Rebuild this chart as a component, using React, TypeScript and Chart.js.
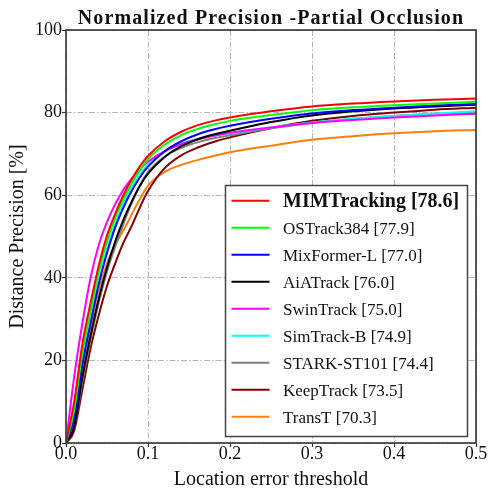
import React, { useEffect, useRef } from "react";
import { Chart, registerables } from "chart.js";
Chart.register(...registerables);

const chartTitle = "Normalized Precision -Partial Occlusion";
const xAxisTitle = "Location error threshold";
const yAxisTitle = "Distance Precision [%]";

const thresholds = [0, 0.01, 0.02, 0.03, 0.04, 0.05, 0.06, 0.07, 0.08, 0.09, 0.1, 0.12, 0.14, 0.16, 0.18, 0.2, 0.25, 0.3, 0.35, 0.4, 0.45, 0.5];

const mimTracking = [0, 10, 24, 34, 43, 50.2, 55.5, 60, 63.8, 67, 69.5, 73, 75.3, 76.9, 78, 78.8, 80.3, 81.5, 82.2, 82.7, 83.1, 83.4];
const osTrack384 = [0, 8, 22, 32, 41.5, 48.8, 54.5, 59, 62.8, 66, 68.7, 72.2, 74.5, 76, 77.1, 78, 79.4, 80.6, 81.3, 81.8, 82.2, 82.6];
const mixFormerL = [0, 6, 19, 29, 38.5, 46, 52.2, 57, 61, 64.3, 66.9, 70.6, 73, 74.7, 75.9, 76.8, 78.5, 79.8, 80.6, 81.2, 81.7, 82.1];
const aiaTrack = [0, 4, 16, 26, 35, 42.5, 48.8, 54, 58.4, 62.2, 65.2, 69.2, 71.8, 73.5, 74.7, 75.6, 77.7, 79.3, 80.3, 81.0, 81.5, 81.9];
const swinTrack = [0, 16, 29, 40, 48, 53.5, 57.8, 61.3, 64, 66.3, 68.1, 70.6, 72.3, 73.5, 74.4, 75.1, 76.4, 77.5, 78.2, 78.8, 79.3, 79.7];
const simTrackB = [0, 7, 20, 30, 39.5, 47, 53, 57.8, 61.6, 64.8, 67.4, 70.5, 72.4, 73.6, 74.4, 75.0, 76.4, 77.6, 78.5, 79.2, 79.8, 80.3];
const starkST101 = [0, 4, 15, 25, 34, 41.5, 47.5, 53, 58, 62.3, 65.6, 69.3, 71.4, 72.8, 73.8, 74.5, 76.2, 77.5, 78.5, 79.2, 79.7, 80.1];
const keepTrack = [0, 3, 13, 23, 31, 38, 43.5, 48.5, 52.5, 57, 61, 66.5, 69.6, 71.5, 72.9, 74, 76.2, 78, 79.2, 80.0, 80.7, 81.2];
const transT = [0, 6, 17, 28, 37, 43.5, 48, 51.5, 55.3, 59, 62.3, 65.6, 67.3, 68.5, 69.5, 70.4, 72, 73.4, 74.3, 75.0, 75.5, 75.8];

const trackerNames = ["MIMTracking", "OSTrack384", "MixFormer-L", "AiATrack", "SwinTrack", "SimTrack-B", "STARK-ST101", "KeepTrack", "TransT"];
const trackerScores = [78.6, 77.9, 77.0, 76.0, 75.0, 74.9, 74.4, 73.5, 70.3];
const trackerColors = ["#ff0000", "#00ff00", "#0000ff", "#000000", "#ff00ff", "#00ffff", "#808080", "#800000", "#ff7f0e"];
const seriesValues = [mimTracking, osTrack384, mixFormerL, aiaTrack, swinTrack, simTrackB, starkST101, keepTrack, transT];

const xTicks = [0, 0.1, 0.2, 0.3, 0.4, 0.5];
const yTicks = [0, 20, 40, 60, 80, 100];

const FONT = "'Liberation Serif', 'Times New Roman', serif";

const framePlugin = {
  id: "frameAndLegend",
  afterDraw(chart: any) {
    const { ctx, chartArea } = chart;
    const { left, right, top, bottom } = chartArea;
    ctx.save();
    // frame
    ctx.strokeStyle = "#333333";
    ctx.lineWidth = 1.6;
    ctx.strokeRect(left, top, right - left, bottom - top);
    // title
    ctx.fillStyle = "#111111";
    ctx.font = `bold 20px ${FONT}`;
    ctx.textAlign = "center";
    ctx.textBaseline = "alphabetic";
    (ctx as any).letterSpacing = "1.1px";
    ctx.fillText(chartTitle, (left + right) / 2, 24);
    (ctx as any).letterSpacing = "0px";
    // legend
    const bx = 225.5, by = 185.5, bw = 242, bh = 251;
    ctx.fillStyle = "#ffffff";
    ctx.fillRect(bx, by, bw, bh);
    ctx.strokeStyle = "#444444";
    ctx.lineWidth = 1.5;
    ctx.strokeRect(bx, by, bw, bh);
    trackerNames.forEach((name, i) => {
      const y = 200.7 + 27 * i;
      ctx.strokeStyle = trackerColors[i];
      ctx.lineWidth = 2;
      ctx.beginPath();
      ctx.moveTo(231.5, y);
      ctx.lineTo(269.5, y);
      ctx.stroke();
      ctx.fillStyle = "#111111";
      ctx.textAlign = "left";
      ctx.textBaseline = "alphabetic";
      ctx.font = i === 0 ? `bold 20px ${FONT}` : `17px ${FONT}`;
      ctx.fillText(`${name} [${trackerScores[i].toFixed(1)}]`, 283, y + 6.5);
    });
    ctx.restore();
  },
};

export default function App() {
  const canvasRef = useRef<HTMLCanvasElement | null>(null);
  useEffect(() => {
    const canvas = canvasRef.current;
    if (!canvas) return;
    const datasets = trackerNames.map((name, i) => ({
      label: `${name} [${trackerScores[i].toFixed(1)}]`,
      data: thresholds.map((x, j) => ({ x, y: seriesValues[i][j] })),
      borderColor: trackerColors[i],
      backgroundColor: trackerColors[i],
      borderWidth: 2,
      pointRadius: 0,
      fill: false,
      cubicInterpolationMode: "monotone" as const,
    }));
    const gridCommon = {
      color: "#b5b5b5",
      lineWidth: 1,
      drawTicks: true,
      tickLength: 4,
      tickColor: "#333333",
      tickWidth: 1.2,
      tickBorderDash: [],
    };
    const borderCommon = { display: false, dash: [6, 2, 1.5, 2] };
    const chart = new Chart(canvas, {
      type: "line",
      data: { datasets },
      plugins: [framePlugin],
      options: {
        animation: false,
        responsive: false,
        devicePixelRatio: 1,
        layout: { padding: { left: 0, right: 18, top: 30, bottom: 0 } },
        plugins: { legend: { display: false }, title: { display: false }, tooltip: { enabled: false } },
        scales: {
          x: {
            type: "linear",
            min: 0,
            max: 0.5,
            afterFit: (s: any) => { s.height = 48; },
            afterBuildTicks: (s: any) => { s.ticks = xTicks.map((v) => ({ value: v })); },
            border: borderCommon,
            grid: gridCommon,
            ticks: {
              color: "#111111",
              font: { family: FONT, size: 18 },
              padding: -4,
              maxRotation: 0,
              callback: (v: any) => Number(v).toFixed(1),
            },
            title: { display: true, text: xAxisTitle, color: "#111111", font: { family: FONT, size: 20 }, padding: { top: 0, bottom: -1 } },
          },
          y: {
            type: "linear",
            min: 0,
            max: 100,
            afterFit: (s: any) => { s.width = 66; },
            afterBuildTicks: (s: any) => { s.ticks = yTicks.map((v) => ({ value: v })); },
            border: borderCommon,
            grid: gridCommon,
            ticks: {
              color: "#111111",
              font: { family: FONT, size: 18 },
              padding: 0,
              callback: (v: any) => String(v),
            },
            title: { display: true, text: yAxisTitle, color: "#111111", font: { family: FONT, size: 20 }, padding: { top: 6, bottom: 0 } },
          },
        },
      },
    });
    return () => chart.destroy();
  }, []);
  return (
    <div style={{ position: "fixed", left: 0, top: 0, width: 494, height: 491, background: "#ffffff" }}>
      <canvas ref={canvasRef} width={494} height={491} style={{ width: 494, height: 491, display: "block" }} />
    </div>
  );
}
